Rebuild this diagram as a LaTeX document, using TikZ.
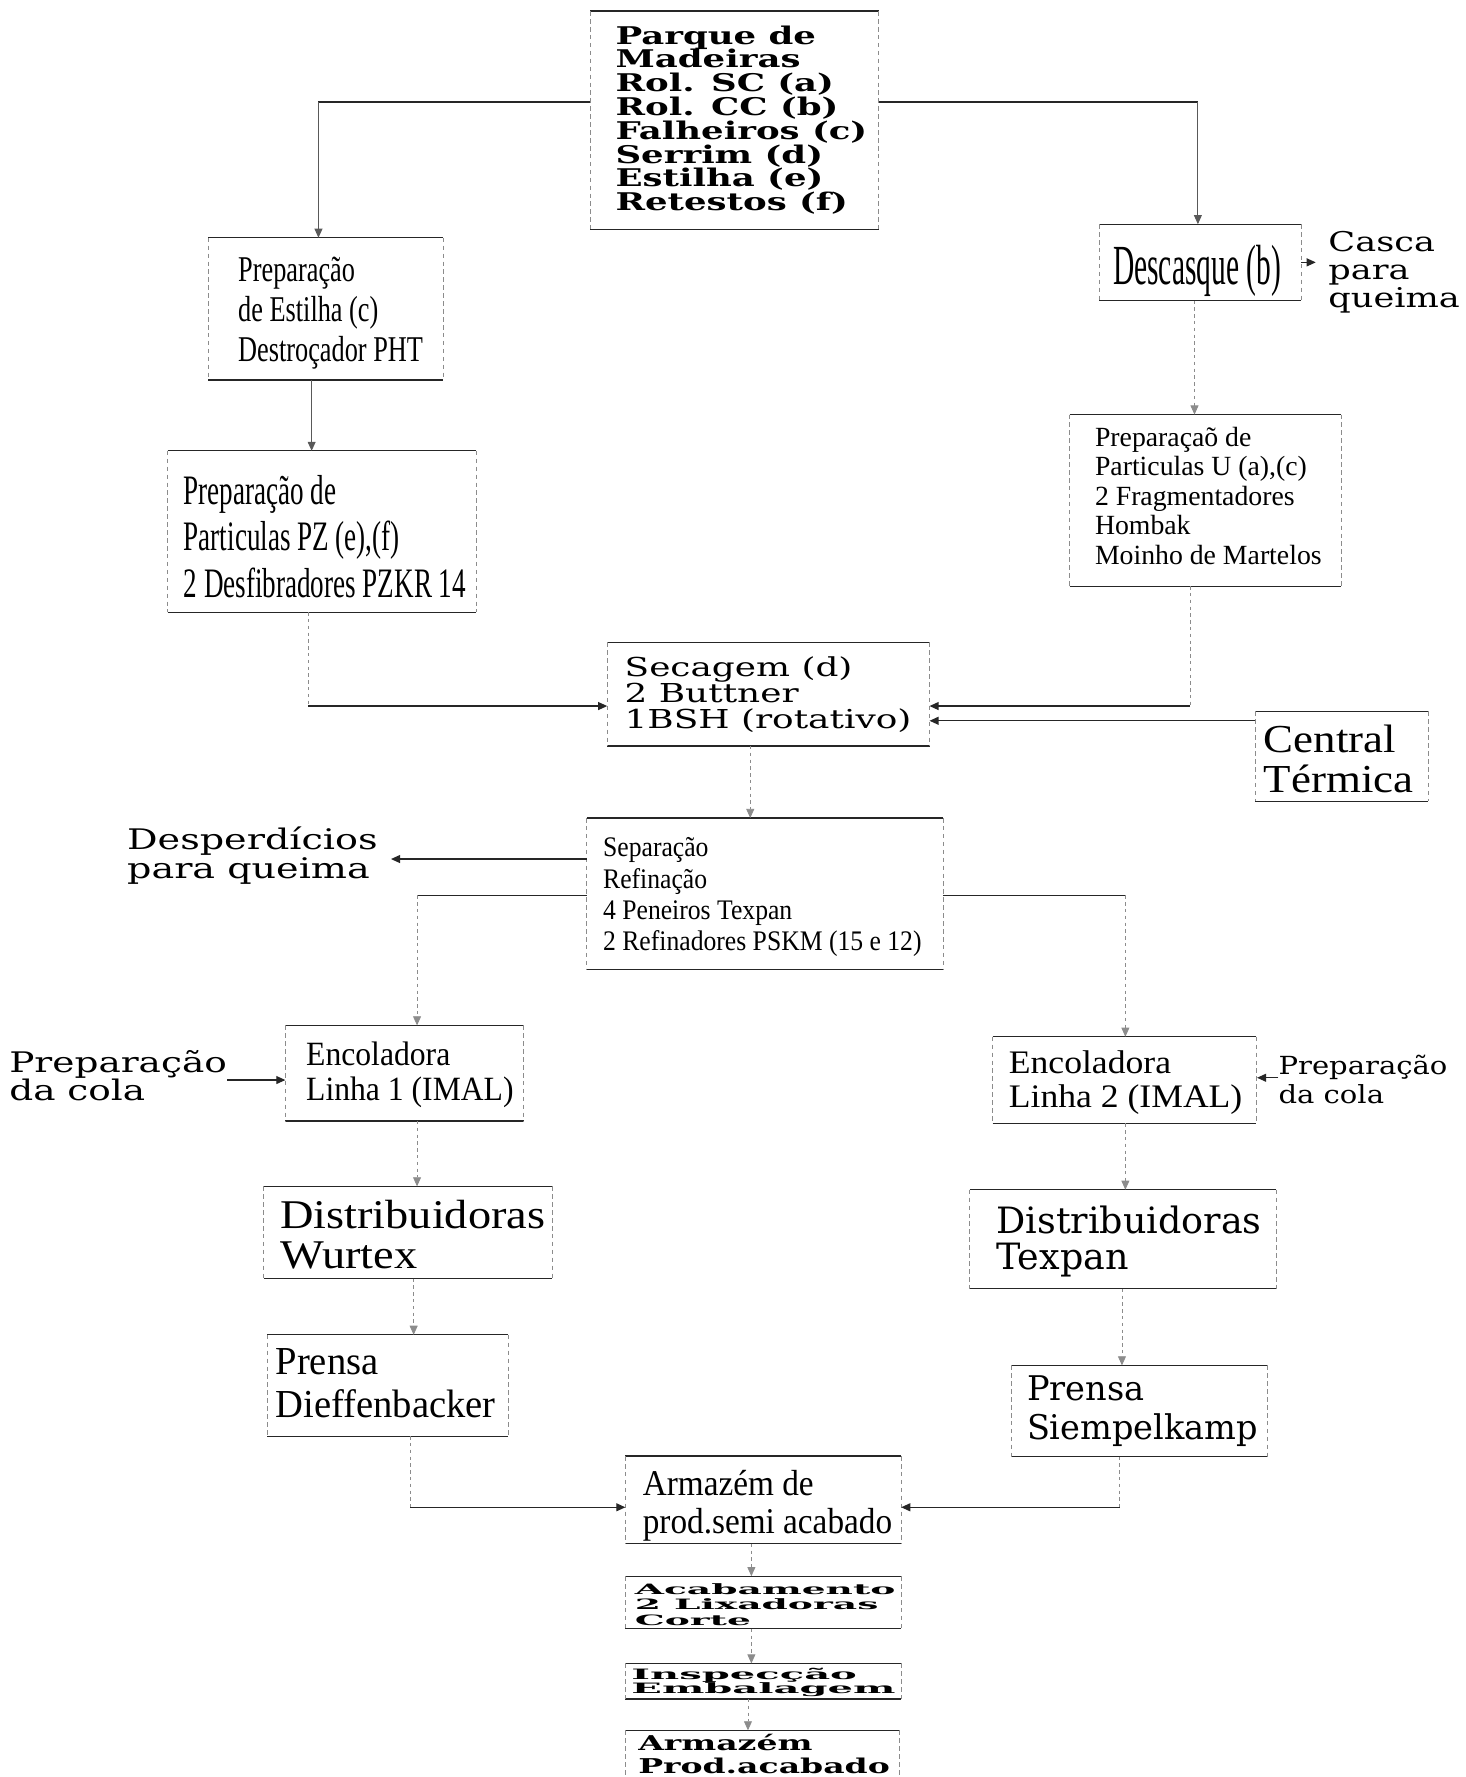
\documentclass[tikz,border=0pt]{standalone}
\usepackage{fontspec}
\usepackage{graphicx}
\usetikzlibrary{arrows.meta}
\newfontfamily\fT{Liberation Serif}
\newfontfamily\fD{DejaVu Serif}
% #1 width of widest line (pt), #2 vertical factor, #3 font, #4 size, #5 skip, #6 lines
\newcommand\TX[6]{\resizebox{#1pt}{#2\height}{#3\fontsize{#4pt}{#5pt}\selectfont\vtop{\lineskiplimit=-\maxdimen\lineskip=0pt\ialign{##\hfil\cr#6\crcr}}}}
% name, x1, y1, x2, y2
\newcommand\BOX[5]{%
  \node[bx, minimum width={(#4-#2)*1pt}, minimum height={(#5-#3)*1pt}] (#1) at ({(#2+#4)/2},{(#3+#5)/2}) {};
  \draw[boxedge] (#1.north west) -- (#1.north east) (#1.south west) -- (#1.south east);
  \draw[boxside] (#1.north west) -- (#1.south west) (#1.north east) -- (#1.south east);}
\begin{document}
\begin{tikzpicture}[x=1pt,y=-1pt,
  txt/.style={inner sep=0pt, anchor=base west},
  bx/.style={rectangle, inner sep=0pt, draw=none},
  boxedge/.style={line width=1.1pt, black!85},
  boxside/.style={line width=0.7pt, black!45, dash pattern=on 4pt off 3pt},
  hline/.style={line width=1.1pt, black!85},
  vline/.style={line width=0.7pt, black!45, dash pattern=on 3pt off 3pt},
  vsolid/.style={line width=0.8pt, black!65},
  arr/.style={-{Triangle[length=8pt,width=7pt]}}]
\useasboundingbox (0,0) rectangle (1293,1568);
\fill[white] (0,0) rectangle (1293,1568);
\clip (0,0) rectangle (1293,1568);

\BOX{nP}{521}{10}{775}{202}
\node[txt] (tP) at (543,39) {\TX{222}{1}{\fD\bfseries}{21.5}{21}{Parque de\cr Madeiras\cr Rol. SC (a)\cr Rol. CC (b)\cr Falheiros (c)\cr Serrim (d)\cr Estilha (e)\cr Retestos (f)}};

\BOX{nE}{184}{210}{391}{335}
\node[txt] (tE) at (210,248) {\TX{163}{1}{\fT}{32}{35.5}{Preparação\cr de Estilha (c)\cr Destroçador PHT}};

\BOX{nD}{970}{198}{1148}{265}
\node[txt] (tD) at (982,251) {\TX{148}{1}{\fT}{50}{50}{Descasque (b)}};

\node[txt] (tC) at (1172,222) {\TX{116}{1}{\fD}{24}{24.5}{Casca\cr para\cr queima}};

\BOX{nZ}{148}{398}{420}{540}
\node[txt] (tZ) at (162,445) {\TX{249}{1}{\fT}{37}{41}{Preparação de\cr Particulas PZ (e),(f)\cr 2 Desfibradores PZKR 14}};

\BOX{nU}{944}{366}{1183}{517}
\node[txt] (tU) at (966,394) {\TX{200}{1}{\fT}{24.5}{26}{Preparaçaõ de\cr Particulas U (a),(c)\cr 2 Fragmentadores\cr Hombak\cr Moinho de Martelos}};

\BOX{nS}{536}{567}{820}{658}
\node[txt] (tS) at (551,597) {\TX{253}{1}{\fD}{23}{23}{Secagem (d)\cr 2 Buttner\cr 1BSH (rotativo)}};

\BOX{nCT}{1108}{628}{1260}{707}
\node[txt] (tCT) at (1115,664) {\TX{132}{1}{\fT}{35}{35}{Central\cr Térmica}};

\BOX{nR}{518}{722}{832}{855}
\node[txt] (tR) at (532,756) {\TX{281}{1}{\fT}{25}{27.7}{Separação\cr Refinação\cr 4 Peneiros Texpan\cr 2 Refinadores PSKM (15 e 12)}};

\node[txt] (tW) at (112,750) {\TX{221}{1}{\fD}{25}{25}{Desperdícios\cr para queima}};

\BOX{nL1}{252}{905}{462}{989}
\node[txt] (tL1) at (270,940) {\TX{183}{1}{\fT}{30}{31}{Encoladora\cr Linha 1 (IMAL)}};

\node[txt] (tPC1) at (8,946) {\TX{192}{1}{\fD}{25}{25}{Preparação\cr da cola}};

\BOX{nL2}{876}{915}{1108}{991}
\node[txt] (tL2) at (890,947) {\TX{206}{1}{\fT}{29}{30}{Encoladora\cr Linha 2 (IMAL)}};

\node[txt] (tPC2) at (1128,948) {\TX{149}{1}{\fD}{22}{26}{Preparação\cr da cola}};

\BOX{nDW}{233}{1047}{487}{1128}
\node[txt] (tDW) at (247,1084) {\TX{234}{1}{\fT}{36}{35}{Distribuidoras\cr Wurtex}};

\BOX{nDT}{856}{1050}{1126}{1137}
\node[txt] (tDT) at (879,1088) {\TX{234}{1}{\fD}{32}{32}{Distribuidoras\cr Texpan}};

\BOX{nPD}{236}{1178}{448}{1267}
\node[txt] (tPD) at (243,1213) {\TX{194}{1}{\fT}{35}{38}{Prensa\cr Dieffenbacker}};

\BOX{nPS}{893}{1205}{1118}{1285}
\node[txt] (tPS) at (906,1236) {\TX{204}{1}{\fD}{30}{34}{Prensa\cr Siempelkamp}};

\BOX{nA}{552}{1285}{795}{1362}
\node[txt] (tA) at (567,1320) {\TX{220}{1}{\fT}{32}{33}{Armazém de\cr prod.semi acabado}};

\BOX{nAC}{552}{1391}{795}{1437}
\node[txt] (tAC) at (560,1407) {\TX{230}{0.7}{\fD\bfseries}{18}{19.3}{Acabamento\cr 2 Lixadoras\cr Corte}};

\BOX{nIN}{552}{1468}{795}{1499}
\node[txt] (tIN) at (557,1482) {\TX{233}{0.7}{\fD\bfseries}{18}{17.1}{Inspecção\cr Embalagem}};

\BOX{nAP}{552}{1527}{793}{1590}
\node[txt] (tAP) at (563,1545) {\TX{222}{0.9}{\fD\bfseries}{20}{22}{Armazém\cr Prod.acabado}};

% connectors
\coordinate (cPL) at (281,90);
\coordinate (cPR) at (1057,90);
\draw[hline] (nP.west |- cPL) -- (cPL);
\draw[vsolid,arr] (cPL) -- (cPL |- nE.north);
\draw[hline] (nP.east |- cPR) -- (cPR);
\draw[vsolid,arr] (cPR) -- (cPR |- nD.north);
\draw[hline,arr,shorten >=11pt] (nD.east) -- (nD.east -| tC.west);
\coordinate (cEZ) at (275,0);
\draw[vsolid,arr] (nE.south -| cEZ) -- (nZ.north -| cEZ);
\coordinate (cDU) at (1054,0);
\draw[vline,arr] (nD.south -| cDU) -- (nU.north -| cDU);
\coordinate (cZS) at (272,623);
\draw[vline] (nZ.south -| cZS) -- (cZS);
\draw[hline,arr] (cZS) -- (cZS -| nS.west);
\coordinate (cUS) at (1050,623);
\draw[vline] (nU.south -| cUS) -- (cUS);
\draw[hline,arr] (cUS) -- (cUS -| nS.east);
\coordinate (cCS) at (0,636);
\draw[hline,arr] (nCT.west |- cCS) -- (nS.east |- cCS);
\coordinate (cSR) at (662,0);
\draw[vline,arr] (nS.south -| cSR) -- (nR.north -| cSR);
\coordinate (cRW) at (345,758);
\draw[hline,arr] (nR.west |- cRW) -- (cRW);
\coordinate (cRL) at (368,790);
\draw[hline] (nR.west |- cRL) -- (cRL);
\draw[vline,arr] (cRL) -- (cRL |- nL1.north);
\coordinate (cRR) at (993,790);
\draw[hline] (nR.east |- cRR) -- (cRR);
\draw[vline,arr] (cRR) -- (cRR |- nL2.north);
\coordinate (cPC1) at (0,953);
\draw[hline,arr] (tPC1.east |- cPC1) -- (nL1.west |- cPC1);
\coordinate (cPC2) at (0,951);
\draw[hline,arr,shorten >=1pt] (tPC2.west |- cPC2) -- (nL2.east |- cPC2);
\coordinate (cL1D) at (368,0);
\draw[vline,arr] (nL1.south -| cL1D) -- (nDW.north -| cL1D);
\coordinate (cDP) at (365,0);
\draw[vline,arr] (nDW.south -| cDP) -- (nPD.north -| cDP);
\coordinate (cL2D) at (993,0);
\draw[vline,arr] (nL2.south -| cL2D) -- (nDT.north -| cL2D);
\coordinate (cDTP) at (990,0);
\draw[vline,arr] (nDT.south -| cDTP) -- (nPS.north -| cDTP);
\coordinate (cPDA) at (362,1330);
\draw[vline] (nPD.south -| cPDA) -- (cPDA);
\draw[hline,arr] (cPDA) -- (cPDA -| nA.west);
\coordinate (cPSA) at (988,1330);
\draw[vline] (nPS.south -| cPSA) -- (cPSA);
\draw[hline,arr] (cPSA) -- (cPSA -| nA.east);
\coordinate (cAA) at (663,0);
\draw[vline,arr] (nA.south -| cAA) -- (nAC.north -| cAA);
\draw[vline,arr] (nAC.south -| cAA) -- (nIN.north -| cAA);
\coordinate (cIA) at (660,0);
\draw[vline,arr] (nIN.south -| cIA) -- (nAP.north -| cIA);
\end{tikzpicture}
\end{document}
